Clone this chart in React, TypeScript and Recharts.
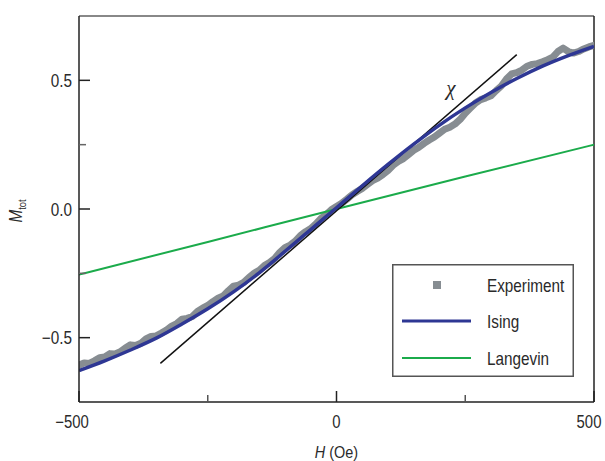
import React from 'react';
import { LineChart, Line, XAxis, YAxis, ReferenceLine, ReferenceDot, Legend } from 'recharts';

// ---- data ----
const fieldH = [
  -500, -490, -480, -470, -460, -450, -440, -430, -420, -410, -400, -390, -380, -370, -360, -350, -340,
  -330, -320, -310, -300, -290, -280, -270, -260, -250, -240, -230, -220, -210, -200, -190, -180, -170,
  -160, -150, -140, -130, -120, -110, -100, -90, -80, -70, -60, -50, -40, -30, -20, -10, 0, 10, 20, 30,
  40, 50, 60, 70, 80, 90, 100, 110, 120, 130, 140, 150, 160, 170, 180, 190, 200, 210, 220, 230, 240, 250,
  260, 270, 280, 290, 300, 310, 320, 330, 340, 350, 360, 370, 380, 390, 400, 410, 420, 430, 440, 450, 460,
  470, 480, 490, 500,
];
const experimentM = [
  -0.607, -0.598, -0.6, -0.59, -0.578, -0.575, -0.562, -0.563, -0.555, -0.54, -0.528, -0.53, -0.522,
  -0.505, -0.495, -0.493, -0.482, -0.47, -0.455, -0.445, -0.428, -0.425, -0.418, -0.398, -0.385, -0.375,
  -0.36, -0.347, -0.338, -0.318, -0.3, -0.296, -0.285, -0.266, -0.25, -0.238, -0.22, -0.208, -0.192,
  -0.168, -0.15, -0.14, -0.125, -0.103, -0.088, -0.076, -0.058, -0.036, -0.022, -0.003, 0.01, 0.022,
  0.038, 0.055, 0.068, 0.08, 0.095, 0.11, 0.12, 0.134, 0.15, 0.17, 0.185, 0.196, 0.212, 0.228, 0.24,
  0.255, 0.268, 0.28, 0.295, 0.31, 0.318, 0.33, 0.348, 0.372, 0.392, 0.412, 0.425, 0.432, 0.44, 0.46,
  0.478, 0.505, 0.525, 0.53, 0.54, 0.555, 0.562, 0.565, 0.572, 0.58, 0.59, 0.612, 0.625, 0.612, 0.606,
  0.612, 0.622, 0.63, 0.636,
];
const isingH = [-500, -450, -400, -350, -300, -250, -200, -150, -100, -50, 0, 50, 100, 150, 200, 250, 300, 350, 400, 450, 500];
const isingM = [
  -0.628, -0.59, -0.548, -0.502, -0.447, -0.388, -0.322, -0.248, -0.165, -0.08, 0.005, 0.09, 0.173, 0.252,
  0.326, 0.393, 0.453, 0.507, 0.555, 0.596, 0.632,
];
const langevinH = [-500, -250, 0, 250, 500];
const langevinM = [-0.255, -0.128, 0, 0.126, 0.25];
const chiH = [-342, 350];
const chiM = [-0.6, 0.6];

const xTicks = [-500, -250, 0, 250, 500];
const xLabeled = [-500, 0, 500];
const yTicks = [-0.5, -0.25, 0, 0.25, 0.5];
const yLabeled = [-0.5, 0, 0.5];
const legendLabels = ['Experiment', 'Ising', 'Langevin'];

const expData = fieldH.map((h, i) => ({ h, m: experimentM[i] }));
const isingData = isingH.map((h, i) => ({ h, m: isingM[i] }));
const langevinData = langevinH.map((h, i) => ({ h, m: langevinM[i] }));
const chiData = chiH.map((h, i) => ({ h, m: chiM[i] }));

const FONT = "'Liberation Sans', Arial, sans-serif";
const TEXT = '#2a2a2a';
const C_EXP = '#878d92';
const C_ISING = '#2e3794';
const C_LANG = '#1bab4b';
const NARROW = 0.85; // the reference uses a condensed face

const fmtX = (v: number) => (v < 0 ? '\u2212' + Math.abs(v) : String(v));
const fmtY = (v: number) => (v < 0 ? '\u2212' + Math.abs(v).toFixed(1) : v.toFixed(1));

const XTick = (props: any) => {
  const { x, y, payload } = props;
  const v = payload.value;
  const major = xLabeled.includes(v);
  const shift = v < 0 ? -7 : v > 0 ? -5 : 0;
  return (
    <g>
      <line x1={x} x2={x} y1={y} y2={y - (major ? 11 : 7)} stroke={major ? '#222' : '#555'} strokeWidth={1.5} />
      {major && (
        <text
          transform={`translate(${x + shift},${y + 26}) scale(${NARROW},1)`}
          textAnchor="middle"
          fontFamily={FONT}
          fontSize={17.5}
          fill={TEXT}
        >
          {fmtX(v)}
        </text>
      )}
    </g>
  );
};

const YTick = (props: any) => {
  const { x, y, payload } = props;
  const v = payload.value;
  const major = yLabeled.includes(v);
  return (
    <g>
      <line x1={x} x2={x + (major ? 11 : 7)} y1={y} y2={y} stroke={major ? '#222' : '#666'} strokeWidth={1.5} />
      {major && (
        <text
          transform={`translate(${x - 7},${y + 6.5}) scale(${NARROW},1)`}
          textAnchor="end"
          fontFamily={FONT}
          fontSize={18}
          fill={TEXT}
        >
          {fmtY(v)}
        </text>
      )}
    </g>
  );
};

const YLabel = (props: any) => {
  const vb = props.viewBox || { x: 0, y: 16, width: 79, height: 386 };
  const cx = vb.x + 22;
  const cy = vb.y + vb.height / 2 + 2;
  return (
    <text
      transform={`translate(${cx},${cy}) rotate(-90) scale(${NARROW},1)`}
      textAnchor="middle"
      fontFamily={FONT}
      fontSize={18}
      fill={TEXT}
    >
      <tspan fontStyle="italic">M</tspan>
      <tspan fontSize={11} dy={4}>tot</tspan>
    </text>
  );
};

const XLabel = (props: any) => {
  const vb = props.viewBox || { x: 79, y: 402, width: 515, height: 59 };
  return (
    <text
      transform={`translate(${vb.x + vb.width / 2},${vb.y + 56}) scale(${NARROW},1)`}
      textAnchor="middle"
      fontFamily={FONT}
      fontSize={17}
      fill={TEXT}
    >
      <tspan fontStyle="italic">H</tspan>
      <tspan> (Oe)</tspan>
    </text>
  );
};

const ChiLabel = (props: any) => {
  const vb = props.viewBox || {};
  const x = (vb.x || 0) + (vb.width || 0) / 2;
  const y = (vb.y || 0) + (vb.height || 0) / 2;
  return (
    <text x={x} y={y + 6} textAnchor="middle" fontFamily="'Liberation Serif', 'DejaVu Serif', serif" fontStyle="italic" fontSize={21} fill={TEXT}>
      χ
    </text>
  );
};

const renderLegend = () => (
  <svg width={182} height={113} style={{ display: 'block' }}>
    <rect x={0.75} y={0.75} width={180.5} height={111.5} fill="#fff" stroke="#555" strokeWidth={1.5} />
    {legendLabels.map((label, i) => {
      const cy = [21, 57, 94][i];
      return (
        <g key={label}>
          {i === 0 && <rect x={41} y={cy - 4} width={8} height={8} fill={C_EXP} />}
          {i === 1 && <line x1={10} x2={79} y1={cy} y2={cy} stroke={C_ISING} strokeWidth={3} />}
          {i === 2 && <line x1={10} x2={79} y1={cy} y2={cy} stroke={C_LANG} strokeWidth={2} />}
          <text
            transform={`translate(95,${cy + 6.5}) scale(${NARROW},1)`}
            fontFamily={FONT}
            fontSize={18}
            fill={TEXT}
          >
            {label}
          </text>
        </g>
      );
    })}
  </svg>
);

export default function App() {
  return (
    <div style={{ position: 'absolute', left: 0, top: 0, width: 605, height: 461, background: '#fff' }}>
      <LineChart width={605} height={461} margin={{ top: 16, right: 11, bottom: 0, left: 0 }}>
        <XAxis
          type="number"
          dataKey="h"
          domain={[-500, 500]}
          ticks={xTicks}
          interval={0}
          allowDataOverflow
          height={59}
          tickSize={0}
          tickMargin={0}
          tickLine={false}
          tick={<XTick />}
          axisLine={{ stroke: '#222', strokeWidth: 1.5 }}
          label={<XLabel />}
        />
        <YAxis
          type="number"
          domain={[-0.75, 0.75]}
          ticks={yTicks}
          interval={0}
          allowDataOverflow
          width={79}
          tickSize={0}
          tickMargin={0}
          tickLine={false}
          tick={<YTick />}
          axisLine={{ stroke: '#222', strokeWidth: 1.5 }}
          label={<YLabel />}
        />
        <ReferenceLine y={0.75} stroke="#888" strokeWidth={2} />
        <ReferenceLine x={500} stroke="#222" strokeWidth={1.5} />
        <Line
          data={expData}
          dataKey="m"
          name="Experiment"
          stroke={C_EXP}
          strokeWidth={7}
          strokeLinejoin="round"
          strokeLinecap="round"
          dot={false}
          type="linear"
          isAnimationActive={false}
        />
        <Line
          data={langevinData}
          dataKey="m"
          name="Langevin"
          stroke={C_LANG}
          strokeWidth={2}
          dot={false}
          type="monotone"
          isAnimationActive={false}
        />
        <Line
          data={chiData}
          dataKey="m"
          name="chi"
          legendType="none"
          stroke="#111"
          strokeWidth={1.5}
          dot={false}
          type="linear"
          isAnimationActive={false}
        />
        <Line
          data={isingData}
          dataKey="m"
          name="Ising"
          stroke={C_ISING}
          strokeWidth={3.5}
          dot={false}
          type="monotone"
          isAnimationActive={false}
        />
        <ReferenceDot x={222} y={0.465} r={0} fill="none" stroke="none" label={<ChiLabel />} />
        <Legend
          layout="vertical"
          align="center"
          verticalAlign="middle"
          content={renderLegend}
          wrapperStyle={{ left: 392, top: 264, width: 182, height: 113 }}
        />
      </LineChart>
    </div>
  );
}
